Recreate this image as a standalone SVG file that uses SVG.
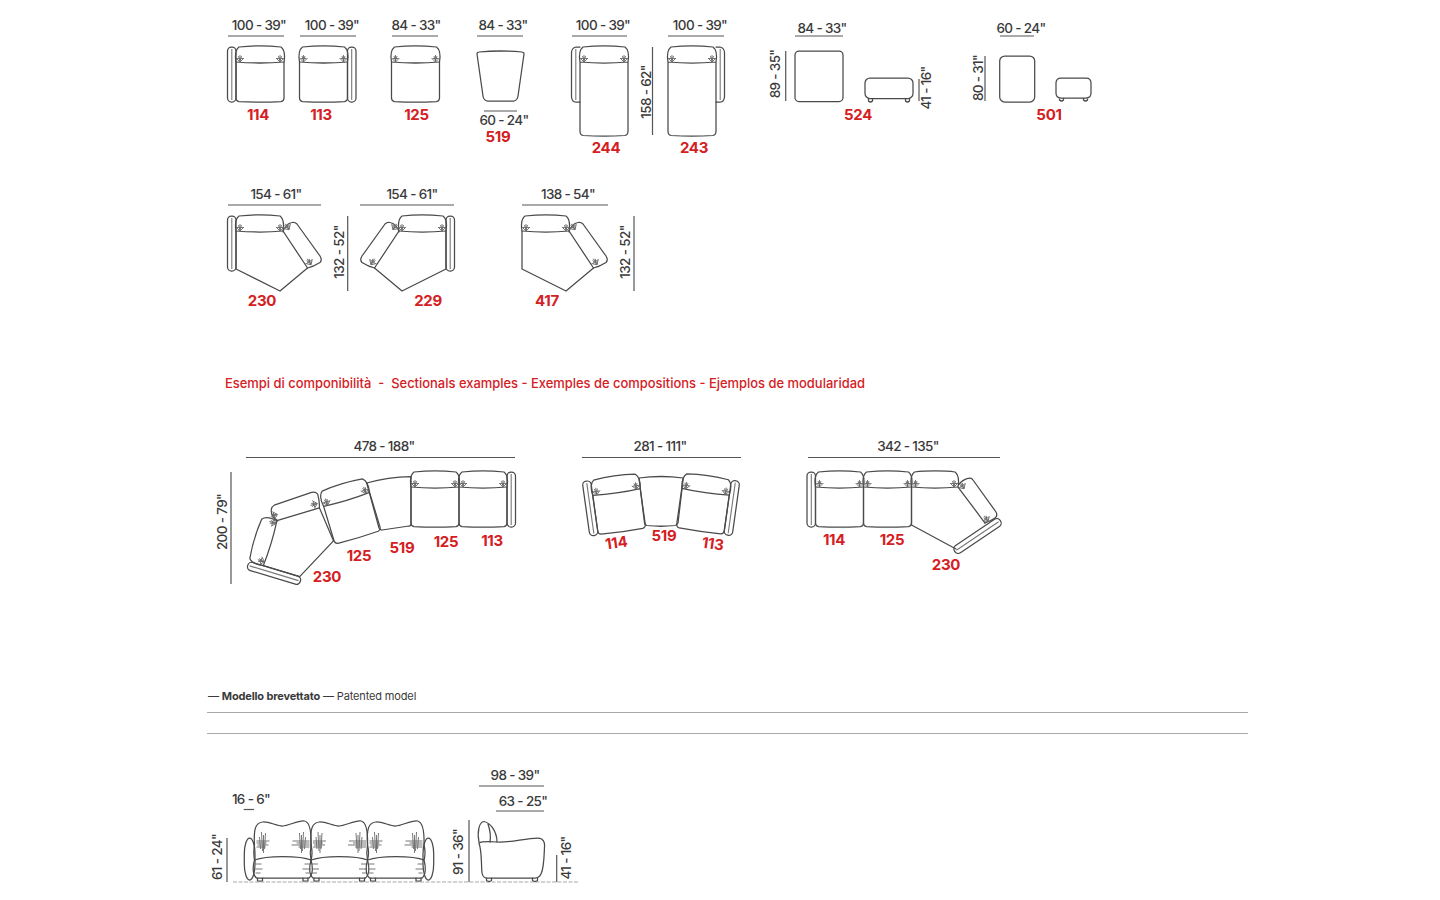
<svg xmlns="http://www.w3.org/2000/svg" width="1440" height="900" viewBox="0 0 1440 900">
<style>
text{font-family:"Inter","Liberation Sans",sans-serif}
.d{font-size:13.5px;font-weight:500;fill:#3a3a3a;text-anchor:middle;letter-spacing:-.65px}
.n{font-size:15px;font-weight:700;fill:#d4201f;text-anchor:middle;letter-spacing:-.3px}
.o{fill:none;stroke:#4a4a4a;stroke-width:1.25;stroke-linejoin:round;stroke-linecap:round}
.a{fill:none;stroke:#777;stroke-width:1.1}
.l{stroke:#555;stroke-width:1.2;fill:none}
.w{fill:none;stroke:#6a6a6a;stroke-width:.9}
.g{stroke:#aaa;stroke-width:1}
.f{stroke:#aaa;stroke-width:1.2;stroke-dasharray:4 1.5}
</style>
<defs>
<g id="wr" class="w"><path d="M0,9 V16 M-4,12 L0,16 L4,12 M-3,12.500 H3 M-1.500,10 L0,15 L1.500,10"/></g>
<g id="m">
<path class="o" d="M0,16 C-1,10 -1,4 3,1 C15,-.4 33,-.4 45,1 C49,4 49,10 48,16 V52 Q48,55 45,55.600 Q24,56.600 3,55.600 Q0,55 0,52 Z"/>
<path class="o" d="M0,16 Q24,18 48,16"/>
<use href="#wr" x="4"/><use href="#wr" x="44"/>
</g>
<g id="al"><rect class="o" x="-8.500" y="1" width="8.500" height="55" rx="4"/><path class="a" d="M-4.200,3 V54"/></g>
<g id="ar"><rect class="o" x="48" y="1" width="8.500" height="55" rx="4"/><path class="a" d="M52.200,3 V54"/></g>
<g id="c">
<path class="o" d="M0,16 C-1,10 -1,4 3,1 C15,-.4 33,-.4 44,1 C48,4 48,10 47,16 L71.500,53 L44,76 L0,54 Z"/>
<path class="o" d="M0,16 Q24,18 47,16"/>
<path class="o" d="M47,17 C48,12 52,8 56,7.500 C58,7 60,8 61,9 L84,41 Q86.500,45 84,47.500 C80,50 76,52 71.500,53"/>
<use href="#wr" x="4"/><use href="#wr" x="44"/><use href="#wr" transform="translate(52,13) rotate(-33) translate(0,-14)"/><use href="#wr" transform="translate(74,48) rotate(-33) translate(0,-14)"/>
</g>
<g id="fm">
<path class="o" d="M0,24 C-1,8 1,2 8,1 C14,0 22,5 28,5 C34,5 44,-1 50,0 C55,1 57,8 56.500,24"/>
<path class="o" d="M0,24 C-1,30 -1,34 0,39 C8,36 20,35.500 28,35.500 C38,35.500 50,36 56.500,39 C58,34 58,30 56.500,24"/>
<path class="o" d="M0,39 C-2,46 -2,54 2,57 H54.500 C58.500,54 58.500,46 56.500,39"/>
<path class="o" d="M3,57 V60 H8 V57 M48.500,57 V60 H53.500 V57"/>
<path class="w" d="M7,11 L8,30 M9,14 V32 M11,12 L10,28 M5,16 L6,28 M2,20 H15 M2,22 H12 M3,24 H14 M2,26 H11 M49,11 L48,30 M47,14 V32 M45,12 L46,28 M51,16 L50,28 M38,20 H55 M42,22 H55 M37,24 H55 M44,26 H55 M1,43 H7 M1,48 H8 M1,52 H6 M55,43 H50 M56,48 H48 M55,52 H51"/>
</g>
<g id="ot"><rect class="o" x="0" y="0" width="48" height="20.500" rx="5"/><path class="o" d="M3.500,20.500 V23 Q5.500,25 7.500,23 V20.500 M40.500,20.500 V23 Q42.500,25 44.500,23 V20.500"/></g>
</defs>

<g id="m114"><text class="d" x="259" y="30">100 - 39"</text><path class="l" d="M228,36H284"/><use href="#m" x="236" y="46"/><use href="#al" x="236" y="46"/><text class="n" x="258" y="120">114</text></g>
<g id="m113"><text class="d" x="332" y="30">100 - 39"</text><path class="l" d="M300,36H356"/><use href="#m" x="299.500" y="46"/><use href="#ar" x="299.500" y="46"/><text class="n" x="321" y="120">113</text></g>
<g id="m125"><text class="d" x="416" y="30">84 - 33"</text><path class="l" d="M392,36H438"/><use href="#m" x="391.500" y="46"/><text class="n" x="416.500" y="120">125</text></g>
<g id="m519"><text class="d" x="503" y="30">84 - 33"</text><path class="l" d="M477,36H523"/><path class="o" d="M477,54 Q477,52 479,52 Q500,50 522,52 Q524,52 524,54 L518,96 Q517.500,100 514,101 H487 Q483.500,100 483,96 Z"/><path class="l" d="M484,111H517"/><text class="d" x="504" y="125">60 - 24"</text><text class="n" x="498" y="142">519</text></g>
<g id="m244"><text class="d" x="603" y="30">100 - 39"</text><path class="l" d="M572,36H627"/><path class="o" d="M580,62 C579,56 579,50 583,47 C595,45.600 613,45.600 625,47 C629,50 629,56 628,62 V131 Q628,135 625,135.500 Q604,136.500 583,135.500 Q580,135 580,131 Z M580,62 Q604,64 628,62"/><use href="#wr" x="584" y="46"/><use href="#wr" x="624" y="46"/><path class="o" d="M580,47 H576 Q571.500,48 571.500,53 V97 Q572,102 576,102 H580"/><path class="a" d="M575.800,49 V100"/><text class="n" x="606" y="153">244</text></g>
<g id="d158"><path class="l" d="M652.500,47V135"/><text class="d" transform="translate(650.500,92) rotate(-90)">158 - 62"</text></g>
<g id="m243"><text class="d" x="700" y="30">100 - 39"</text><path class="l" d="M668,36H724"/><path class="o" d="M668,62 C667,56 667,50 671,47 C683,45.600 701,45.600 713,47 C717,50 717,56 716,62 V131 Q716,135 713,135.500 Q692,136.500 671,135.500 Q668,135 668,131 Z M668,62 Q692,64 716,62"/><use href="#wr" x="672" y="46"/><use href="#wr" x="712" y="46"/><path class="o" d="M716,47 H720 Q724.500,48 724.500,53 V97 Q724,102 720,102 H716"/><path class="a" d="M720.200,49 V100"/><text class="n" x="694" y="153">243</text></g>
<g id="m524"><text class="d" x="822" y="33">84 - 33"</text><path class="l" d="M795,36H843"/><path class="l" d="M785.700,51V101"/><text class="d" transform="translate(780,74) rotate(-90)">89 - 35"</text><rect class="o" x="795" y="51" width="48" height="50.500" rx="4"/><use href="#ot" x="865" y="78"/><path class="l" d="M919,79V101"/><text class="d" transform="translate(931,88) rotate(-90)">41 - 16"</text><text class="n" x="858" y="120">524</text></g>
<g id="m501"><text class="d" x="1021" y="33">60 - 24"</text><path class="l" d="M1000,36H1034"/><path class="l" d="M985,56V101"/><text class="d" transform="translate(982.500,78) rotate(-90)">80 - 31"</text><rect class="o" x="999.700" y="56" width="35" height="46" rx="5"/><path class="o" d="M1056,83 Q1056,78 1061,78 H1086 Q1091,78 1091,83 V93 Q1091,98 1086,98 H1061 Q1056,98 1056,93 Z M1059.500,98 V100 Q1061.500,102 1063.500,100 V98 M1083.500,98 V100 Q1085.500,102 1087.500,100 V98"/><text class="n" x="1049" y="120">501</text></g>

<g id="m230"><text class="d" x="276" y="199">154 - 61"</text><path class="l" d="M228,205H321"/><use href="#c" x="236" y="215"/><use href="#al" x="236" y="215"/><text class="n" x="262" y="306">230</text></g>
<g id="d132a"><path class="l" d="M347.700,216V291"/><text class="d" transform="translate(344,252) rotate(-90)">132 - 52"</text></g>
<g id="m229"><text class="d" x="412" y="199">154 - 61"</text><path class="l" d="M360,205H454"/><g transform="translate(446,215) scale(-1,1)"><use href="#c"/><use href="#al"/></g><text class="n" x="428" y="306">229</text></g>
<g id="m417"><text class="d" x="568" y="199">138 - 54"</text><path class="l" d="M522,205H608"/><use href="#c" x="522" y="215"/><path class="l" d="M634,216V291"/><text class="d" transform="translate(629.500,252) rotate(-90)">132 - 52"</text><text class="n" x="547" y="306">417</text></g>

<text id="heading" x="225" y="388" xml:space="preserve" textLength="640" lengthAdjust="spacingAndGlyphs" style="font-size:13.500px;font-weight:500;fill:#d4201f">Esempi di componibilità  -  Sectionals examples - Exemples de compositions - Ejemplos de modularidad</text>

<g id="compA"><text class="d" x="384" y="451">478 - 188"</text><path class="l" d="M246,457.500H515M231,472V584"/><text class="d" transform="translate(227,522) rotate(-90)">200 - 79"</text>
<use href="#m" x="459" y="471"/><use href="#ar" x="459" y="471"/><use href="#m" x="411" y="471"/>
<path class="o" d="M366.700,483 Q388,477 411,476.700 V524 Q411,526 409,526 L382,530 Q380,530 379,528 Z"/>
<g transform="translate(319,491) rotate(-16.800)"><use href="#m"/></g>
<g transform="translate(248,561) rotate(-73.200)"><use href="#c"/><use href="#al"/></g>
<text class="n" x="359" y="561">125</text><text class="n" x="402" y="553">519</text><text class="n" x="446" y="547">125</text><text class="n" x="492" y="546">113</text><text class="n" x="327" y="582">230</text></g>

<g id="compB"><text class="d" x="660" y="451">281 - 111"</text><path class="l" d="M582,457.500H741"/>
<g transform="translate(590.500,479.500) rotate(-8)"><use href="#m"/><use href="#al"/></g>
<path class="o" d="M639,478 Q661,475 683.300,478 L678,523 Q677,525 675,525.500 Q661,527 647,525.500 Q645,525 644.500,523 Z"/>
<g transform="translate(684,472.500) rotate(8)"><use href="#m"/><use href="#ar"/></g>
<text class="n" transform="translate(617,548) rotate(-8)">114</text><text class="n" x="664" y="541">519</text><text class="n" transform="translate(712,549) rotate(8)">113</text></g>

<g id="compC"><text class="d" x="908" y="451">342 - 135"</text><path class="l" d="M808,457.500H1000"/>
<use href="#m" x="815.500" y="471"/><use href="#al" x="815.500" y="471"/><use href="#m" x="863.500" y="471"/>
<path class="o" d="M911.500,487 C910.500,481 910.500,475 914.500,472 C926,470.600 945,470.600 955,472 C959,475 959,481 958,487 L985,523 M911.500,487 V525 L956,549"/>
<path class="o" d="M911.500,487 Q935,489 958,487"/>
<use href="#wr" x="915.500" y="471"/><use href="#wr" x="954" y="471"/>
<path class="o" d="M958.500,485 C960,482 966,478 970,478 Q972,478 973,480 L996,512 Q998,516 995,518 C992,520 988,522 985,523"/>
<use href="#wr" transform="translate(963,487) rotate(-33) translate(0,-14)"/><use href="#wr" transform="translate(987,520) rotate(-33) translate(0,-14)"/>
<g transform="translate(977.500,536) rotate(-34)"><rect class="o" x="-27.500" y="-4.300" width="55" height="8.600" rx="4"/><path class="a" d="M-25.500,0 H25.500"/></g>
<text class="n" x="834" y="545">114</text><text class="n" x="892" y="545">125</text><text class="n" x="946" y="570">230</text></g>

<g id="patent"><text x="208" y="700" style="font-size:11px;fill:#3a3a3a;letter-spacing:-.15px">— <tspan font-weight="700">Modello brevettato</tspan> — Patented model</text>
<path class="g" d="M207,712.500H1248M207,733.500H1248"/></g>

<g id="front"><text class="d" x="251" y="804">16 - 6"</text><path class="l" d="M243.700,809.500H254"/>
<path class="l" d="M227,838V882"/><text class="d" transform="translate(222,857) rotate(-90)">61 - 24"</text>
<rect class="o" x="244.300" y="838" width="10.700" height="42" rx="5.300" ry="16"/>
<use href="#fm" x="254.500" y="821"/><use href="#fm" x="311" y="821"/><use href="#fm" x="367.500" y="821"/>
<rect class="o" x="423" y="838" width="10.700" height="42" rx="5.300" ry="16"/></g>
<path id="ground" class="f" d="M233,882H578"/>

<g id="side"><text class="d" x="515" y="780">98 - 39"</text><path class="l" d="M479,786H544"/><text class="d" x="523" y="806">63 - 25"</text><path class="l" d="M496,811H544"/>
<path class="l" d="M469,820V882"/><text class="d" transform="translate(463,852) rotate(-90)">91 - 36"</text>
<path class="o" d="M479,842 C477,832 479,822 484,821.500 C491,823 497,832 497,842 M488,824 C490,830 491,836 490,842"/>
<path class="o" d="M479,843 Q482,841 497,842 C510,843 525,838 538,838 C543,838 545,842 544.500,847 C544,858 544,868 541,874 Q539,878 535,878 H487 Q483,878 482,873 C481,862 482,852 479,843 Z"/>
<path class="o" d="M486.500,878 V880.500 Q489,882.500 491.500,880.500 V878 M532.500,878 V880.500 Q535,882.500 537.500,880.500 V878"/>
<path class="l" d="M556.700,855V882"/><text class="d" transform="translate(571,858) rotate(-90)">41 - 16"</text></g>
</svg>
